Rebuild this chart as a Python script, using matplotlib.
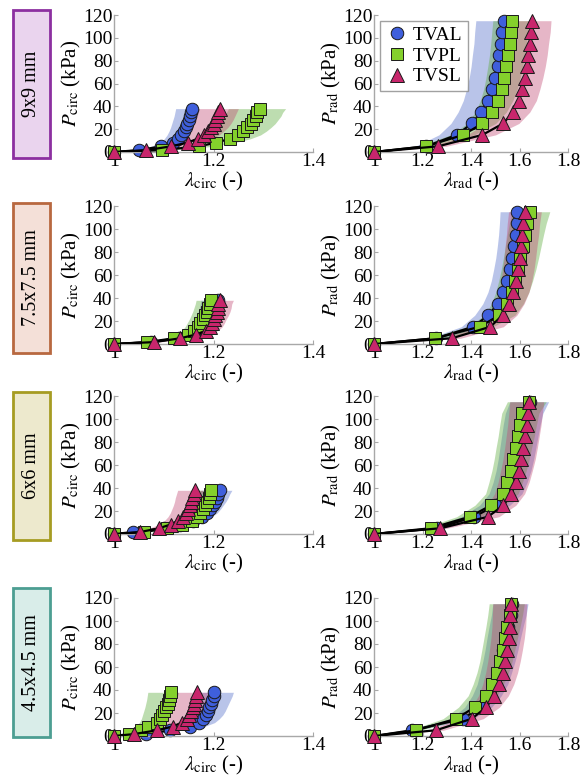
import numpy as np
import matplotlib
matplotlib.use('Agg')
import matplotlib.pyplot as plt
from matplotlib.patches import Rectangle
from matplotlib.lines import Line2D

plt.rcParams['font.family'] = ['Liberation Serif', 'DejaVu Serif']
plt.rcParams['mathtext.fontset'] = 'stix'

# loading steps (kPa)
p_circ = [0, 1.65, 4.96, 8.26, 11.6, 14.9, 18.2, 21.5, 24.8, 28.1, 31.4, 34.7, 38.0]
p_rad = [0, 5, 15, 25, 35, 45, 55, 65, 75, 85, 95, 105, 115]

sizes = ['9x9 mm', '7.5x7.5 mm', '6x6 mm', '4.5x4.5 mm']
leaflets = ['TVAL', 'TVPL', 'TVSL']

# mean stretch, circumferential
circ_9_tval = [1.0, 1.05, 1.095, 1.118, 1.128, 1.135, 1.14, 1.144, 1.147, 1.15, 1.153, 1.155, 1.157]
circ_9_tvpl = [1.0, 1.097, 1.17, 1.206, 1.233, 1.25, 1.26, 1.268, 1.275, 1.28, 1.285, 1.288, 1.293]
circ_9_tvsl = [1.0, 1.065, 1.115, 1.148, 1.168, 1.18, 1.188, 1.195, 1.2, 1.204, 1.207, 1.21, 1.213]
circ_75_tval = [1.0, 1.075, 1.13, 1.16, 1.175, 1.184, 1.19, 1.195, 1.199, 1.202, 1.205, 1.207, 1.209]
circ_75_tvpl = [1.0, 1.067, 1.12, 1.148, 1.16, 1.168, 1.173, 1.178, 1.182, 1.186, 1.189, 1.192, 1.194]
circ_75_tvsl = [1.0, 1.08, 1.133, 1.165, 1.185, 1.193, 1.197, 1.2, 1.204, 1.207, 1.209, 1.21, 1.213]
circ_6_tval = [1.0, 1.038, 1.1, 1.133, 1.158, 1.177, 1.187, 1.193, 1.198, 1.203, 1.207, 1.21, 1.214]
circ_6_tvpl = [1.0, 1.06, 1.106, 1.136, 1.156, 1.166, 1.173, 1.179, 1.183, 1.187, 1.19, 1.193, 1.195]
circ_6_tvsl = [1.0, 1.052, 1.09, 1.114, 1.129, 1.138, 1.144, 1.148, 1.152, 1.155, 1.157, 1.16, 1.163]
circ_45_tval = [1.0, 1.065, 1.113, 1.153, 1.17, 1.178, 1.184, 1.188, 1.191, 1.194, 1.197, 1.2, 1.202]
circ_45_tvpl = [1.0, 1.03, 1.055, 1.069, 1.086, 1.093, 1.097, 1.101, 1.105, 1.108, 1.111, 1.113, 1.115]
circ_45_tvsl = [1.0, 1.04, 1.086, 1.118, 1.136, 1.146, 1.151, 1.155, 1.158, 1.16, 1.162, 1.164, 1.166]

# mean stretch, radial
rad_9_tval = [1.0, 1.216, 1.341, 1.404, 1.442, 1.469, 1.486, 1.5, 1.51, 1.517, 1.525, 1.529, 1.535]
rad_9_tvpl = [1.0, 1.216, 1.368, 1.447, 1.486, 1.51, 1.526, 1.537, 1.546, 1.554, 1.56, 1.565, 1.57]
rad_9_tvsl = [1.0, 1.265, 1.447, 1.533, 1.573, 1.597, 1.61, 1.621, 1.63, 1.637, 1.642, 1.648, 1.651]
rad_75_tval = [1.0, 1.256, 1.409, 1.472, 1.51, 1.534, 1.55, 1.561, 1.571, 1.578, 1.584, 1.588, 1.591]
rad_75_tvpl = [1.0, 1.253, 1.436, 1.517, 1.548, 1.568, 1.582, 1.594, 1.604, 1.613, 1.622, 1.632, 1.645]
rad_75_tvsl = [1.0, 1.321, 1.48, 1.53, 1.557, 1.575, 1.586, 1.594, 1.6, 1.605, 1.611, 1.615, 1.621]
rad_6_tval = [1.0, 1.26, 1.414, 1.5, 1.545, 1.564, 1.578, 1.588, 1.596, 1.604, 1.612, 1.622, 1.643]
rad_6_tvpl = [1.0, 1.233, 1.395, 1.483, 1.534, 1.55, 1.564, 1.575, 1.584, 1.594, 1.602, 1.611, 1.638]
rad_6_tvsl = [1.0, 1.274, 1.47, 1.534, 1.567, 1.584, 1.596, 1.607, 1.615, 1.622, 1.629, 1.634, 1.639]
rad_45_tval = [1.0, 1.157, 1.368, 1.436, 1.472, 1.496, 1.51, 1.523, 1.534, 1.543, 1.553, 1.564, 1.571]
rad_45_tvpl = [1.0, 1.175, 1.339, 1.415, 1.463, 1.487, 1.506, 1.52, 1.53, 1.54, 1.55, 1.559, 1.566]
rad_45_tvsl = [1.0, 1.256, 1.403, 1.463, 1.496, 1.516, 1.53, 1.54, 1.548, 1.555, 1.56, 1.562, 1.564]

# spread of the fitted curves at the highest load (lower, upper stretch)
circ_band_9 = [(1.124, 1.172), (1.23, 1.345), (1.156, 1.25)]
circ_band_75 = [(1.175, 1.225), (1.165, 1.215), (1.185, 1.24)]
circ_band_6 = [(1.175, 1.237), (1.16, 1.225), (1.128, 1.18)]
circ_band_45 = [(1.17, 1.24), (1.068, 1.13), (1.12, 1.19)]
rad_band_9 = [(1.42, 1.56), (1.49, 1.64), (1.56, 1.73)]
rad_band_75 = [(1.52, 1.65), (1.57, 1.725), (1.555, 1.69)]
rad_band_6 = [(1.56, 1.72), (1.55, 1.71), (1.56, 1.70)]
rad_band_45 = [(1.49, 1.635), (1.475, 1.62), (1.49, 1.63)]

circ_data = [(circ_9_tval, circ_9_tvpl, circ_9_tvsl),
             (circ_75_tval, circ_75_tvpl, circ_75_tvsl),
             (circ_6_tval, circ_6_tvpl, circ_6_tvsl),
             (circ_45_tval, circ_45_tvpl, circ_45_tvsl)]
rad_data = [(rad_9_tval, rad_9_tvpl, rad_9_tvsl),
            (rad_75_tval, rad_75_tvpl, rad_75_tvsl),
            (rad_6_tval, rad_6_tvpl, rad_6_tvsl),
            (rad_45_tval, rad_45_tvpl, rad_45_tvsl)]
circ_bands = [circ_band_9, circ_band_75, circ_band_6, circ_band_45]
rad_bands = [rad_band_9, rad_band_75, rad_band_6, rad_band_45]

marker_face = ['#3f5fdc', '#84d02c', '#c8266c']
markers = ['o', 's', '^']
msizes = [9, 8, 9.5]
band_col = ['#5a74cc', '#5caa3a', '#c24a74']
band_alpha = [0.42, 0.40, 0.40]

box_face = ['#ead4ee', '#f4e0d8', '#ede9cd', '#d9ede9']
box_edge = ['#8c2fa0', '#b86840', '#a69c22', '#4c9e92']

W, H = 582, 781
fig = plt.figure(figsize=(W / 100, H / 100), dpi=100)

row_y = [(15, 152), (206, 344), (396, 534), (598, 736)]
box_y = [(10, 158), (203, 353), (392, 540), (588, 737)]


def draw_panel(ax, p, series, bands, xmax, xticks, sub):
    p = np.array(p)
    for k in range(3):
        lam = np.array(series[k])
        lo, hi = bands[k]
        s = lam - 1
        ax.fill_betweenx(p, 1 + s * (lo - 1) / s[-1], 1 + s * (hi - 1) / s[-1],
                         color=band_col[k], alpha=band_alpha[k], lw=0, zorder=1)
    for k in range(3):
        ax.plot(series[k], p, '-', color='black', lw=1.6, zorder=2 + k)
        ax.plot(series[k], p, markers[k], ms=msizes[k], mfc=marker_face[k],
                mec='#1a1a1a', mew=0.7, zorder=2.5 + k, clip_on=False)
    ax.set_xlim(1, xmax)
    ax.set_ylim(0, 120)
    ax.set_xticks(xticks)
    ax.set_xticklabels(['%g' % t for t in xticks])
    ax.set_yticks(range(0, 121, 20))
    for side in ['top', 'right']:
        ax.spines[side].set_visible(False)
    for side in ['left', 'bottom']:
        ax.spines[side].set_color('#a8a8a8')
        ax.spines[side].set_linewidth(1.0)
    ax.tick_params(direction='in', length=3, color='#a8a8a8', labelsize=14, pad=1)
    ax.set_ylabel(r'$P_{\mathrm{%s}}$ (kPa)' % sub, fontsize=15, labelpad=0)
    ax.set_xlabel(r'$\lambda_{\mathrm{%s}}$ (-)' % sub, fontsize=15, labelpad=0)


for r in range(4):
    top, bot = row_y[r]
    ax_l = fig.add_axes([114 / W, 1 - bot / H, 199 / W, (bot - top) / H])
    draw_panel(ax_l, p_circ, circ_data[r], circ_bands[r], 1.4, [1, 1.2, 1.4], 'circ')
    ax_r = fig.add_axes([374 / W, 1 - bot / H, 194 / W, (bot - top) / H])
    draw_panel(ax_r, p_rad, rad_data[r], rad_bands[r], 1.8, [1, 1.2, 1.4, 1.6, 1.8], 'rad')
    if r == 0:
        handles = [Line2D([], [], ls='none', marker=markers[k], ms=msizes[k],
                          mfc=marker_face[k], mec='#1a1a1a', mew=0.7) for k in range(3)]
        leg = ax_r.legend(handles, leaflets, loc='upper left', fontsize=14,
                          fancybox=False, edgecolor='#8a8a8a', borderaxespad=0.3,
                          handletextpad=0.2, labelspacing=0.15, borderpad=0.3,
                          handlelength=1.2)
        leg.get_frame().set_linewidth(1.0)

    # size label boxes on the left
    by0, by1 = box_y[r]
    fig.add_artist(Rectangle((13 / W, 1 - by1 / H), 37 / W, (by1 - by0) / H,
                             transform=fig.transFigure, facecolor=box_face[r],
                             edgecolor=box_edge[r], lw=2))
    fig.text(31.5 / W, 1 - (by0 + by1) / 2 / H, sizes[r], rotation=90,
             ha='center', va='center', fontsize=14.5)

fig.savefig('out.png', dpi=100)
